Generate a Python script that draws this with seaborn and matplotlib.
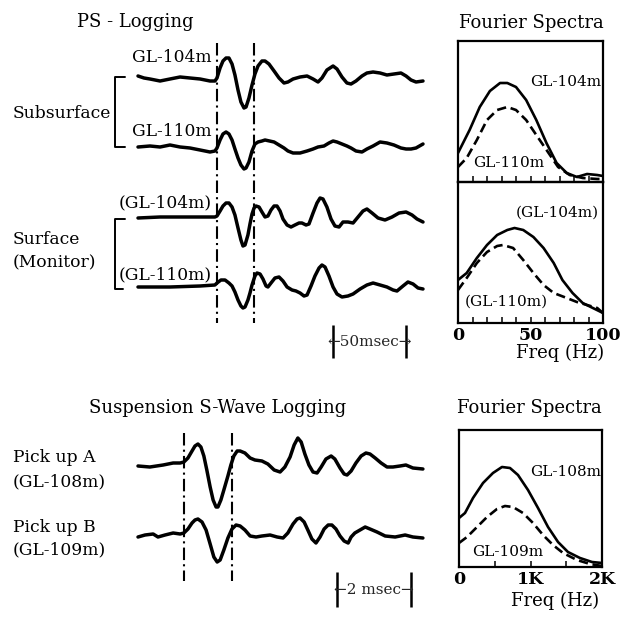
import numpy as np
import matplotlib
matplotlib.use("Agg")
import matplotlib.pyplot as plt
import seaborn as sns

# ---------------- data ----------------
# PS-logging waveforms: time (ms) and relative amplitude
sub104_t = [0, 4.1, 8.2, 15.1, 21.9, 28.8, 35.6, 42.5, 49.3, 52.7, 54.1, 56.2, 58.2, 60.3, 62.3, 64.4,
            66.4, 68.5, 70.5, 72.6, 74.0, 76.0, 78.1, 80.1, 82.2, 84.9, 87.0, 89.7, 93.2, 96.6, 100.0,
            102.7, 106.2, 111.0, 115.8, 119.9, 123.3, 126.0, 129.4, 133.6, 136.3, 139.7, 143.1, 145.9,
            149.3, 153.4, 156.8, 161.0, 165.8, 170.5, 175.3, 180.1, 183.6, 187.0, 190.4, 195.2]
sub104_a = [4, 2, 1, -1, 1, 3, 2, 1, -1, -1, 2, 12, 19, 22, 22, 16, 5, -10, -22, -28, -27, -18, -5, 6,
            14, 19, 19, 16, 9, 2, -3, -2, 1, 3, 4, 1, -2, 2, 10, 14, 11, 3, -3, -4, -1, 4, 7, 8, 7, 5,
            6, 7, 4, 0, -2, -1]

sub110_t = [0, 8.2, 15.1, 21.9, 28.8, 35.6, 42.5, 49.3, 52.7, 54.1, 56.2, 58.2, 60.3, 62.3, 64.4, 66.4,
            68.5, 70.5, 72.6, 74.0, 76.0, 78.1, 80.1, 82.2, 84.9, 87.0, 93.2, 96.6, 100.0, 102.7, 106.2,
            111.0, 115.8, 119.9, 123.3, 127.4, 130.8, 133.6, 136.3, 139.7, 143.1, 145.9, 149.3, 153.4,
            156.8, 161.0, 165.8, 170.5, 175.3, 180.1, 183.6, 187.0, 190.4, 195.2]
sub110_a = [2, 3, 2, 4, 2, 1, -1, -3, -2, 1, 9, 15, 17, 15, 9, 0, -9, -16, -20, -19, -13, -2, 5, 7, 8,
            9, 7, 4, 1, -2, -4, -4, -2, 0, 2, 3, 6, 8, 7, 5, 3, 1, -2, -3, 0, 3, 7, 6, 4, 1, 0, 0, 1, 5]

surf104_t = [0, 15.1, 28.8, 42.5, 52.7, 54.1, 56.2, 58.2, 60.3, 62.3, 64.4, 66.4, 68.5, 70.5, 71.9, 73.3,
             75.3, 76.7, 78.1, 79.5, 80.8, 82.9, 84.9, 87.0, 89.0, 91.1, 93.2, 95.2, 97.3, 99.3, 102.1,
             104.8, 107.5, 110.3, 112.3, 115.1, 117.1, 119.9, 122.6, 124.7, 126.7, 129.4, 132.2, 134.9,
             137.7, 140.4, 143.8, 147.3, 150.7, 154.1, 156.8, 160.3, 164.4, 169.2, 174.0, 178.8, 183.6,
             187.7, 191.1, 195.2]
surf104_a = [-1, 0, 0, 0, 0, 1, 6, 11, 14, 14, 10, 2, -11, -23, -29, -28, -18, -7, 3, 9, 11, 10, 5, 0,
             1, 7, 11, 11, 6, -2, -8, -10, -8, -6, -6, -8, -7, 4, 14, 19, 18, 10, -2, -9, -10, -5, -5,
             -6, 0, 6, 8, 4, -1, -3, 0, 4, 5, 2, -2, -5]

surf110_t = [0, 21.9, 42.5, 52.7, 54.1, 56.8, 59.6, 62.3, 64.4, 66.4, 68.5, 70.5, 71.9, 73.3, 75.3, 76.7,
             78.1, 80.1, 81.5, 83.6, 85.6, 87.7, 89.0, 91.1, 93.8, 96.6, 99.3, 102.1, 105.5, 108.2, 111.0,
             113.7, 115.8, 118.5, 121.2, 124.0, 126.0, 128.1, 130.8, 133.6, 136.3, 139.7, 143.8, 147.3,
             152.1, 156.8, 161.0, 165.8, 170.5, 174.7, 177.4, 181.5, 184.9, 188.4, 191.8, 195.2]
surf110_a = [-1, -1, 0, 1, 3, 6, 6, 3, 0, -6, -14, -20, -22, -21, -14, -7, 1, 10, 13, 12, 7, 0, -1, 3,
             8, 9, 5, -1, -4, -5, -7, -10, -9, 0, 10, 18, 21, 19, 10, -1, -8, -11, -10, -8, -3, 1, 3, 1,
             -1, -4, -5, 0, 4, 2, -2, -3]

ps_picks_ms = [54.1, 79.5]
ps_scale_ms = [133.6, 183.6]

# Suspension S-wave logging waveforms: time (ms) and relative amplitude
pickA_t = [0, 0.32, 0.68, 0.95, 1.14, 1.24, 1.35, 1.46, 1.54, 1.62, 1.70, 1.78, 1.86, 1.95, 2.03, 2.11,
           2.16, 2.24, 2.32, 2.43, 2.51, 2.59, 2.68, 2.76, 2.89, 3.03, 3.16, 3.35, 3.51, 3.68, 3.84, 3.97,
           4.11, 4.22, 4.32, 4.41, 4.51, 4.62, 4.73, 4.84, 4.95, 5.08, 5.22, 5.32, 5.46, 5.57, 5.65, 5.76,
           5.89, 6.03, 6.16, 6.27, 6.41, 6.57, 6.73, 6.89, 7.08, 7.24, 7.43, 7.70]
pickA_a = [0, -1, 1, 3, 3, 4, 8, 15, 20, 22, 19, 10, -4, -21, -34, -41, -41, -34, -24, -10, 1, 10, 15,
           15, 13, 8, 6, 5, 2, -4, -6, -1, 9, 21, 28, 24, 12, 1, -6, -7, -1, 7, 10, 7, -2, -8, -9, -5,
           3, 10, 13, 12, 8, 3, -1, -1, 0, 1, -2, -3]

pickB_t = [0, 0.19, 0.41, 0.54, 0.73, 0.95, 1.14, 1.24, 1.35, 1.46, 1.54, 1.62, 1.73, 1.84, 1.95, 2.05,
           2.14, 2.22, 2.32, 2.43, 2.54, 2.65, 2.76, 2.89, 3.03, 3.19, 3.35, 3.57, 3.76, 3.92, 4.05, 4.19,
           4.30, 4.38, 4.49, 4.59, 4.70, 4.81, 4.92, 5.03, 5.14, 5.24, 5.35, 5.46, 5.57, 5.68, 5.76, 5.86,
           6.00, 6.14, 6.27, 6.46, 6.68, 6.95, 7.22, 7.43, 7.70]
pickB_a = [-2, 0, 1, -2, 0, 2, 1, 2, 6, 12, 15, 16, 13, 5, -9, -22, -27, -25, -15, -3, 6, 10, 9, 5, -1,
           -2, -1, 0, -2, -3, 2, 11, 16, 17, 13, 5, -4, -8, -2, 6, 10, 10, 6, -1, -6, -8, -2, 2, 5, 8,
           6, 3, -1, -2, 0, -2, -3]

ss_picks_ms = [1.24, 2.54]
ss_scale_ms = [5.38, 7.38]

# Fourier spectra (relative amplitude)
spec_sub104_f = [0, 8, 15, 22, 29, 34, 40, 47, 54, 61, 68, 75, 82, 89, 96, 100]
spec_sub104_a = [29, 52, 75, 91, 99, 99, 95, 82, 62, 39, 19, 9, 5, 8, 7, 6]
spec_sub110_f = [0, 6, 13, 20, 27, 34, 40, 47, 54, 62, 69, 77, 86, 96, 100]
spec_sub110_a = [15, 24, 42, 62, 72, 75, 72, 62, 47, 30, 15, 7, 4, 3, 3]

spec_surf104_f = [0, 6, 13, 20, 27, 34, 39, 45, 52, 59, 66, 72, 79, 86, 93, 100]
spec_surf104_a = [43, 50, 65, 78, 88, 93, 95, 93, 86, 75, 60, 43, 30, 20, 15, 10]
spec_surf110_f = [0, 6, 13, 20, 27, 31, 38, 45, 52, 59, 66, 75, 82, 89, 96, 100]
spec_surf110_a = [33, 45, 60, 71, 77, 78, 75, 63, 50, 38, 30, 25, 21, 18, 15, 10]

spec_ss108_f = [0, 84, 196, 336, 475, 601, 713, 825, 965, 1105, 1245, 1385, 1524, 1692, 1860, 2000]
spec_ss108_a = [49, 54, 69, 84, 94, 100, 99, 92, 77, 59, 40, 25, 15, 9, 5, 4]
spec_ss109_f = [0, 112, 252, 392, 531, 643, 755, 895, 1035, 1175, 1315, 1455, 1650, 1832, 2000]
spec_ss109_a = [24, 30, 40, 50, 58, 61, 60, 54, 44, 32, 22, 14, 7, 3, 1]

ps_freq_ticks = list(range(0, 101, 10))
ps_freq_labels = ["0", "", "", "", "", "50", "", "", "", "", "100"]
ss_freq_ticks = [0, 500, 1000, 1500, 2000]
ss_freq_labels = ["0", "", "1K", "", "2K"]

# ---------------- figure ----------------
W, H = 625, 619
sns.set_theme(style="white")
plt.rcParams["font.family"] = ["DejaVu Serif", "DejaVu Sans"]
plt.rcParams["axes.facecolor"] = "none"

fig = plt.figure(figsize=(W / 100, H / 100), dpi=100)
fig.patch.set_facecolor("white")


def box(x0, y0, x1, y1):
    return fig.add_axes([x0 / W, 1 - y1 / H, (x1 - x0) / W, (y1 - y0) / H])


# label layer in pixel units
ov = box(0, 0, W, H)
ov.set_xlim(0, W)
ov.set_ylim(H, 0)
ov.axis("off")

FS_T = 13
FS_L = 12.3


def label(x, y, s, ha="left", fs=FS_L):
    ov.text(x, y, s, ha=ha, va="center", fontsize=fs, color="black")


def trace(ax, t, a, base):
    sns.lineplot(x=np.asarray(t, float), y=base - np.asarray(a, float), ax=ax, color="black",
                 linewidth=2.5, sort=False, estimator=None, solid_joinstyle="round",
                 solid_capstyle="round")


DASHDOT = (0, (6, 2, 1, 2))

# ---- PS logging waveforms ----
ax_ps = box(130, 35, 430, 370)
k_ps = 50 / 73
ax_ps.set_xlim((130 - 138) * k_ps, (430 - 138) * k_ps)
ax_ps.set_ylim(370, 35)
ax_ps.axis("off")
trace(ax_ps, sub104_t, sub104_a, 80)
trace(ax_ps, sub110_t, sub110_a, 149)
trace(ax_ps, surf104_t, surf104_a, 217)
trace(ax_ps, surf110_t, surf110_a, 286)
ax_ps.vlines(ps_picks_ms, 43, 323, colors="black", linestyles=[DASHDOT], linewidth=1.5)
ax_ps.vlines(ps_scale_ms, 325, 358, colors="black", linewidth=1.8)
ax_ps.text(np.mean(ps_scale_ms), 342, "←50msec→", ha="center", va="center", fontsize=11)

label(135, 22, "PS - Logging", ha="center", fs=FS_T)
label(212, 58, "GL-104m", ha="right")
label(13, 113, "Subsurface")
label(212, 132, "GL-110m", ha="right")
label(212, 203, "(GL-104m)", ha="right")
label(13, 240, "Surface")
label(13, 263, "(Monitor)")
label(212, 275, "(GL-110m)", ha="right")
ov.plot([125, 115, 115, 125], [77, 77, 147, 147], color="black", lw=1.4)
ov.plot([125, 115, 115, 123], [219, 219, 289, 289], color="black", lw=1.4)

# ---- Suspension logging waveforms ----
ax_ss = box(130, 425, 430, 612)
k_ss = 1 / 37
ax_ss.set_xlim((130 - 138) * k_ss, (430 - 138) * k_ss)
ax_ss.set_ylim(612, 425)
ax_ss.axis("off")
trace(ax_ss, pickA_t, pickA_a, 466)
trace(ax_ss, pickB_t, pickB_a, 535)
ax_ss.vlines(ss_picks_ms, 433, 581, colors="black", linestyles=[DASHDOT], linewidth=1.5)
ax_ss.vlines(ss_scale_ms, 572, 607, colors="black", linewidth=1.8)
ax_ss.text(np.mean(ss_scale_ms), 590, "←2 msec→", ha="center", va="center", fontsize=11)

label(218, 408, "Suspension S-Wave Logging", ha="center", fs=FS_T)
label(13, 458, "Pick up A")
label(13, 482, "(GL-108m)")
label(13, 527, "Pick up B")
label(13, 550, "(GL-109m)")


# ---- spectra ----
def spec_axes(ax, xmax, ymax, ticks, labels, show_labels):
    ax.set_xlim(0, xmax)
    ax.set_ylim(0, ymax)
    for s in ax.spines.values():
        s.set_visible(True)
        s.set_color("black")
        s.set_linewidth(1.6)
    ax.set_yticks([])
    ax.set_xticks(ticks)
    ax.set_xticklabels(labels if show_labels else [""] * len(ticks), fontweight="bold")
    ax.tick_params(axis="x", bottom=True, direction="in", length=4, width=1.1,
                   labelsize=12.5, pad=3, labelcolor="black", color="black")
    ax.set_xlabel("")
    ax.set_ylabel("")


def spec_line(ax, f, a, dashed=False):
    sns.lineplot(x=np.asarray(f, float), y=np.asarray(a, float), ax=ax, color="black",
                 linewidth=1.9, sort=False, estimator=None, solid_joinstyle="round")
    if dashed:
        ax.lines[-1].set_linestyle((0, (3.5, 1.8)))


ax_s1 = box(458, 41, 603, 182)
spec_line(ax_s1, spec_sub104_f, spec_sub104_a)
spec_line(ax_s1, spec_sub110_f, spec_sub110_a, dashed=True)
spec_axes(ax_s1, 100, 141, ps_freq_ticks, ps_freq_labels, False)

ax_s2 = box(458, 182, 603, 323)
spec_line(ax_s2, spec_surf104_f, spec_surf104_a)
spec_line(ax_s2, spec_surf110_f, spec_surf110_a, dashed=True)
spec_axes(ax_s2, 100, 141, ps_freq_ticks, ps_freq_labels, True)

ax_s3 = box(459, 430, 602, 567)
spec_line(ax_s3, spec_ss108_f, spec_ss108_a)
spec_line(ax_s3, spec_ss109_f, spec_ss109_a, dashed=True)
spec_axes(ax_s3, 2000, 137, ss_freq_ticks, ss_freq_labels, True)

label(531, 23, "Fourier Spectra", ha="center", fs=FS_T)
label(601, 82, "GL-104m", ha="right", fs=11)
label(473, 163, "GL-110m", fs=11)
label(599, 213, "(GL-104m)", ha="right", fs=11)
label(465, 302, "(GL-110m)", fs=11)
label(560, 353, "Freq (Hz)", ha="center", fs=FS_T)

label(529, 408, "Fourier Spectra", ha="center", fs=FS_T)
label(601, 472, "GL-108m", ha="right", fs=11)
label(472, 552, "GL-109m", fs=11)
label(555, 601, "Freq (Hz)", ha="center", fs=FS_T)

fig.savefig("out.png", dpi=100, facecolor="white")
